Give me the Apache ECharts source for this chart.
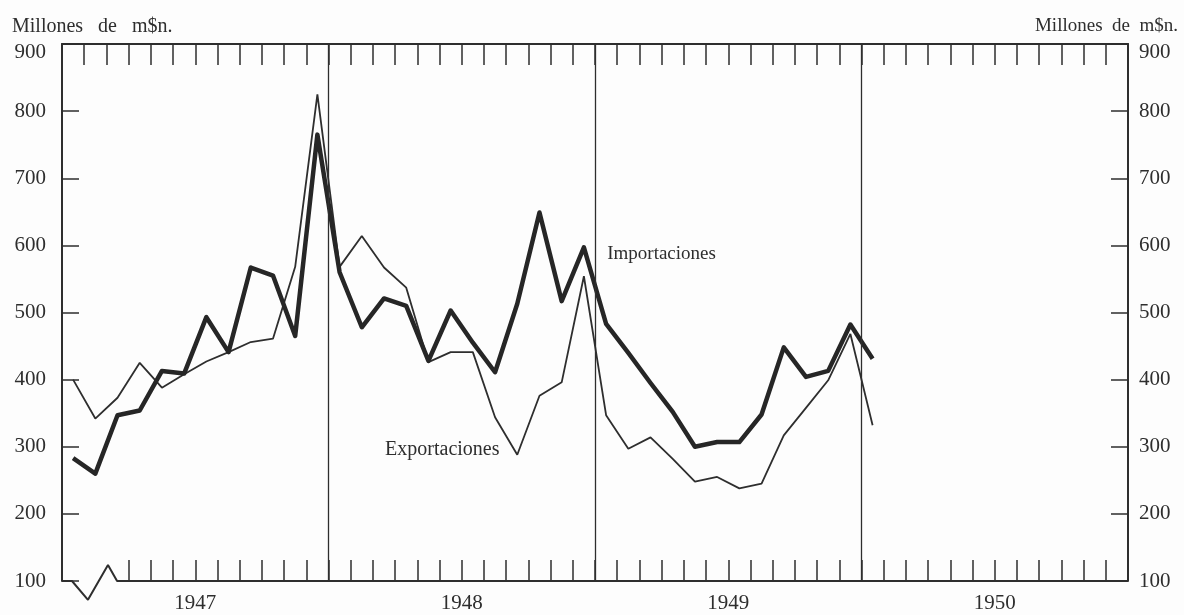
<!DOCTYPE html>
<html>
<head>
<meta charset="utf-8">
<title>Exportaciones e importaciones</title>
<script src="https://cdn.jsdelivr.net/npm/echarts@6/dist/echarts.min.js"></script>
<style>
  html, body { margin: 0; padding: 0; background: #fdfdfd; }
  #chart { width: 1184px; height: 615px; }
</style>
</head>
<body>
<div id="chart"></div>
<script>
// monthly values, Jan 1947 .. Jan 1950 (millones de m$n.)
const years = ['1947', '1948', '1949', '1950']
const exportaciones = [
  400, 342, 373, 425, 388, 408, 427, 441, 456, 461, 568, 825,
  568, 614, 567, 537, 426, 441, 441, 344, 288, 376, 396, 554,
  347, 297, 314, 282, 248, 255, 238, 245, 317, 358, 399, 468,
  332
]
const importaciones = [
  283, 260, 347, 354, 413, 409, 493, 441, 567, 555, 465, 765,
  560, 478, 521, 510, 428, 503, 455, 411, 513, 649, 517, 597,
  483, 440, 395, 352, 300, 307, 307, 348, 448, 404, 413, 482,
  431
]
const yearBounds = [12, 24, 36]
// bottom border with the broken-axis zigzag (month, value)
const breakMark = [[0, 100], [0.45, 100], [1.17, 72], [2.07, 124], [2.48, 100], [48, 100]]

const serif = "'Liberation Serif', 'DejaVu Serif', serif"
const ink = '#2e2e2e'

function toPoints(arr) {
  return arr.map((v, i) => [i + 0.5, v])
}
function range(a, b) {
  let out = []
  for (let i = a; i <= b; i++) out.push(i)
  return out
}

const chart = echarts.init(document.getElementById('chart'))

chart.setOption({
  animation: false,
  backgroundColor: '#fdfdfd',
  textStyle: { fontFamily: serif, color: ink },
  grid: { left: 62, right: 56, top: 44, bottom: 34 },
  graphic: [
    {
      type: 'text', left: 12, top: 17,
      style: { text: 'Millones   de   m$n.', font: '20px ' + serif, fill: ink }
    },
    {
      type: 'text', right: 6, top: 17,
      style: { text: 'Millones  de  m$n.', font: '19px ' + serif, fill: ink }
    }
  ],
  xAxis: [
    {
      type: 'value', position: 'bottom', min: 0, max: 48,
      axisLine: { show: false, onZero: false },
      splitLine: { show: false },
      axisTick: {
        inside: true, length: 21,
        customValues: range(3, 47),
        lineStyle: { color: ink, width: 1.5 }
      },
      axisLabel: {
        customValues: [6, 18, 30, 42],
        formatter: v => years[(v - 6) / 12],
        fontFamily: serif, fontSize: 21, color: ink, margin: 12
      }
    },
    {
      type: 'value', position: 'top', min: 0, max: 48,
      axisLine: { show: true, onZero: false, lineStyle: { color: ink, width: 2 } },
      splitLine: { show: false },
      axisTick: {
        inside: true, length: 21,
        customValues: range(1, 47),
        lineStyle: { color: ink, width: 1.5 }
      },
      axisLabel: { show: false }
    }
  ],
  yAxis: [
    {
      type: 'value', position: 'left', min: 100, max: 900, interval: 100,
      axisLine: { show: true, onZero: false, lineStyle: { color: ink, width: 2 } },
      splitLine: { show: false },
      axisTick: { show: true, inside: true, length: 17, lineStyle: { color: ink, width: 1.5 } },
      axisLabel: {
        fontFamily: serif, fontSize: 21, color: ink, margin: 16,
        formatter: v => v === 900 ? '{t|900}' : String(v),
        rich: { t: { fontFamily: serif, fontSize: 21, color: ink, padding: [17, 0, 0, 0] } }
      }
    },
    {
      type: 'value', position: 'right', min: 100, max: 900, interval: 100,
      axisLine: { show: true, onZero: false, lineStyle: { color: ink, width: 2 } },
      splitLine: { show: false },
      axisTick: { show: true, inside: true, length: 17, lineStyle: { color: ink, width: 1.5 } },
      axisLabel: {
        fontFamily: serif, fontSize: 21, color: ink, margin: 11,
        formatter: v => v === 900 ? '{t|900}' : String(v),
        rich: { t: { fontFamily: serif, fontSize: 21, color: ink, padding: [16, 0, 0, 0] } }
      }
    }
  ],
  series: [
    {
      name: 'Exportaciones',
      type: 'line',
      data: toPoints(exportaciones),
      symbol: 'none',
      lineStyle: { color: ink, width: 1.8 },
      markLine: {
        silent: true,
        symbol: 'none',
        label: { show: false },
        lineStyle: { color: ink, width: 1.3, type: 'solid' },
        data: yearBounds.map(m => ({ xAxis: m }))
      },
      markPoint: {
        silent: true,
        symbolSize: 0,
        data: [{
          coord: [19.7, 295],
          label: {
            show: true, position: 'inside', align: 'right', formatter: 'Exportaciones',
            fontFamily: serif, fontSize: 20, color: ink
          }
        }]
      }
    },
    {
      name: 'Importaciones',
      type: 'line',
      data: toPoints(importaciones),
      symbol: 'none',
      lineStyle: { color: '#262626', width: 4.5, join: 'round' },
      markPoint: {
        silent: true,
        symbolSize: 0,
        data: [{
          coord: [24.55, 587],
          label: {
            show: true, position: 'inside', align: 'left', formatter: 'Importaciones',
            fontFamily: serif, fontSize: 19, color: ink
          }
        }]
      }
    },
    {
      name: 'borde',
      type: 'line',
      data: breakMark,
      symbol: 'none',
      clip: false,
      silent: true,
      lineStyle: { color: ink, width: 2 }
    }
  ]
})
</script>
</body>
</html>
